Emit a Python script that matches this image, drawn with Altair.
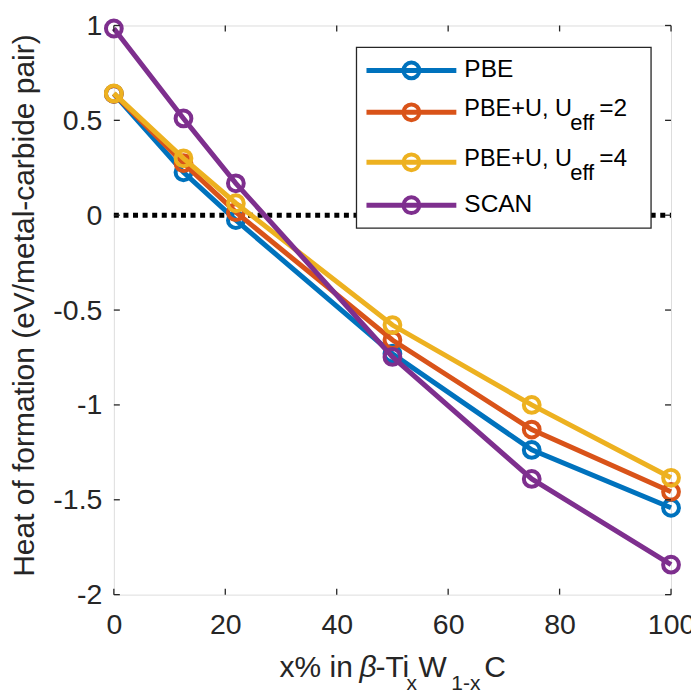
import altair as alt
import pandas as pd

# ---------------- data ----------------
x_vals = [0, 12.5, 21.9, 50, 75, 100]
series_names = ["PBE", "PBE+U, Ueff=2", "PBE+U, Ueff=4", "SCAN"]
pbe = [0.64, 0.226, -0.026, -0.73, -1.237, -1.542]
pbe_u2 = [0.64, 0.274, 0.016, -0.658, -1.13, -1.458]
pbe_u4 = [0.642, 0.30, 0.063, -0.579, -1.0, -1.384]
scan = [0.984, 0.51, 0.168, -0.747, -1.39, -1.842]
colors = ["#0072BD", "#D95319", "#EDB120", "#7E2F8E"]

x_ticks = [0, 20, 40, 60, 80, 100]
y_ticks = [-2, -1.5, -1, -0.5, 0, 0.5, 1]

# legend label pieces: (main text, subscript, suffix)
legend_parts = [("PBE", "", ""), ("PBE+U, U", "eff", "=2"), ("PBE+U, U", "eff", "=4"), ("SCAN", "", "")]

W, H = 558, 570
FONT = "Liberation Sans"
AX = "#262626"
TICK_FS = 28.5
LEG_FS = 24.5

rows = []
for name, vals in zip(series_names, [pbe, pbe_u2, pbe_u4, scan]):
    for xv, yv in zip(x_vals, vals):
        rows.append({"x": xv, "y": yv, "series": name})
df = pd.DataFrame(rows)

xs = alt.Scale(domain=[0, 100], nice=False, zero=False)
ys = alt.Scale(domain=[-2, 1], nice=False, zero=False)

x_axis = alt.Axis(values=x_ticks, ticks=False, domain=False, grid=False, labelFontSize=TICK_FS,
                  labelFont=FONT, labelColor=AX, labelPadding=16, labelFlush=False,
                  labelOverlap=False, title=None)
y_axis = alt.Axis(values=y_ticks, ticks=False, domain=False, grid=False, labelFontSize=TICK_FS,
                  labelFont=FONT, labelColor=AX, labelPadding=12, labelOverlap=False,
                  labelExpr="'' + datum.value",
                  title="Heat of formation (eV/metal-carbide pair)", titleFontSize=30,
                  titleFont=FONT, titleColor=AX, titleFontWeight="normal",
                  titleX=-89, titleY=280, titleBaseline="middle")

base = alt.Chart(df)

# zero dotted line
zero_df = pd.DataFrame({"x": [0], "x2": [100], "y": [0]})
zero = alt.Chart(zero_df).mark_rule(color="black", strokeWidth=5, strokeDash=[5, 4.6]).encode(
    x=alt.X("x:Q", scale=xs, axis=x_axis), x2="x2:Q", y=alt.Y("y:Q", scale=ys, axis=y_axis))

MS = 250
MW = 4
LW = 5

layers = [zero]
for name, c in zip(series_names, colors):
    sub = base.transform_filter(alt.datum.series == name)
    layers.append(sub.mark_line(color=c, strokeWidth=LW).encode(
        x=alt.X("x:Q", scale=xs), y=alt.Y("y:Q", scale=ys)))
    layers.append(sub.mark_point(shape="circle", filled=False, color=c, size=MS,
                                 strokeWidth=MW, opacity=1).encode(
        x=alt.X("x:Q", scale=xs), y=alt.Y("y:Q", scale=ys)))

# inward ticks (box style)
xt = pd.DataFrame({"t": x_ticks})
yt = pd.DataFrame({"t": y_ticks})
TL = 6
layers.append(alt.Chart(xt).mark_rule(color=AX, strokeWidth=1.3).encode(
    x=alt.X("t:Q", scale=xs), y=alt.value(H), y2=alt.value(H - TL)))
layers.append(alt.Chart(xt).mark_rule(color=AX, strokeWidth=1.3).encode(
    x=alt.X("t:Q", scale=xs), y=alt.value(0), y2=alt.value(TL)))
layers.append(alt.Chart(yt).mark_rule(color=AX, strokeWidth=1.3).encode(
    y=alt.Y("t:Q", scale=ys), x=alt.value(0), x2=alt.value(TL)))
layers.append(alt.Chart(yt).mark_rule(color=AX, strokeWidth=1.3).encode(
    y=alt.Y("t:Q", scale=ys), x=alt.value(W), x2=alt.value(W - TL)))

# manual legend
leg_y = [45, 87, 137, 180]
LX0, LX1, LCX, LTX = 253, 343, 298, 351
legend_df = pd.DataFrame({"a": [0]})
lg = alt.Chart(legend_df)
layers.append(lg.mark_rect(fill="white", stroke=AX, strokeWidth=1.3).encode(
    x=alt.value(243), x2=alt.value(538), y=alt.value(22), y2=alt.value(203)))
for (main, subs, suf), c, yy in zip(legend_parts, colors, leg_y):
    layers.append(lg.mark_rule(color=c, strokeWidth=LW).encode(
        x=alt.value(LX0), x2=alt.value(LX1), y=alt.value(yy)))
    layers.append(lg.mark_point(shape="circle", filled=False, color=c, size=MS,
                                strokeWidth=MW, opacity=1).encode(
        x=alt.value(LCX), y=alt.value(yy)))
    if subs:
        layers.append(lg.mark_text(text=main, font=FONT, fontSize=LEG_FS - 1, color="black",
                                   align="left", baseline="middle").encode(
            x=alt.value(LTX), y=alt.value(yy - 3)))
        layers.append(lg.mark_text(text=subs, font=FONT, fontSize=22, color="black",
                                   align="left", baseline="middle").encode(
            x=alt.value(457), y=alt.value(yy + 11)))
        layers.append(lg.mark_text(text=suf, font=FONT, fontSize=LEG_FS, color="black",
                                   align="left", baseline="middle").encode(
            x=alt.value(486), y=alt.value(yy - 3)))
    else:
        layers.append(lg.mark_text(text=main, font=FONT, fontSize=LEG_FS, color="black",
                                   align="left", baseline="middle").encode(
            x=alt.value(LTX), y=alt.value(yy)))

# x-axis title with subscripts
TY = 652
SY = 665
title_parts = [
    ("x% in ", 166, TY, 30, "normal"),
    ("\u03b2", 246, TY, 30, "italic"),
    ("-Ti", 262, TY, 30, "normal"),
    ("x", 293, SY, 21, "normal"),
    ("W", 305, TY, 30, "normal"),
    ("1-x", 338, SY, 21, "normal"),
    ("C", 371, TY, 30, "normal"),
]
for txt, px, py, fs, sty in title_parts:
    layers.append(lg.mark_text(text=txt, font=FONT, fontSize=fs, fontStyle=sty, color=AX,
                               align="left", baseline="alphabetic").encode(
        x=alt.value(px), y=alt.value(py)))

chart = alt.layer(*layers).properties(
    width=W, height=H,
    autosize=alt.AutoSizeParams(type="none"),
    padding={"left": 106, "top": 17, "right": 20, "bottom": 96},
).configure_view(stroke=AX, strokeWidth=1.3).configure(background="white")

chart.save("out.html", embed_options={"renderer": "svg", "actions": False})
